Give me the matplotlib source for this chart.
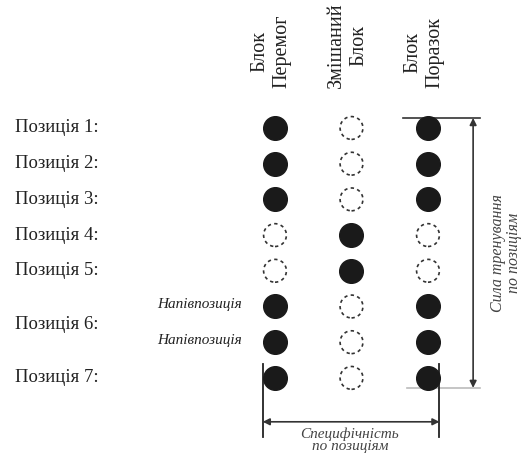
import matplotlib.pyplot as plt
import numpy as np

plt.rcParams["font.family"] = ["Liberation Serif", "DejaVu Serif"]

# columns (blocks) and rows (positions)
blocks = ["Блок\nПеремог", "Змішаний\nБлок", "Блок\nПоразок"]
row_labels = ["Позиція 1:", "Позиція 2:", "Позиція 3:", "Позиція 4:",
              "Позиція 5:", "Позиція 6:", "Позиція 7:"]
row_label_pos = [0, 1, 2, 3, 4, 5.5, 7]
half_labels = ["Напівпозиція", "Напівпозиція"]
half_pos = [5, 6]

# 1 = filled circle, 0 = dashed empty circle (8 rows incl. two half-positions)
filled = [
    [1, 1, 1, 0, 0, 1, 1, 1],
    [0, 0, 0, 1, 1, 0, 0, 0],
    [1, 1, 1, 0, 0, 1, 1, 1],
]

side_label = "Сила тренування\nпо позиціям"
bottom_label = "Специфічність\nпо позиціям"

fig = plt.figure(figsize=(5.23, 4.62), dpi=100)
ax = fig.add_axes([0, 0, 1, 1])
ax.set_xlim(-3.595, 3.242)
ax.set_ylim(9.356, -3.585)
ax.axis("off")

dark = "#1a1a1a"
for ci, col in enumerate(filled):
    col = np.array(col)
    rows = np.arange(len(col))
    ax.scatter(np.full((col == 1).sum(), ci), rows[col == 1], s=290,
               color=dark, edgecolors=dark, zorder=3)
    ax.scatter(np.full((col == 0).sum(), ci), rows[col == 0], s=270,
               facecolors="white", edgecolors="#333333", linewidths=1.2,
               linestyles=(0, (2.0, 2.0)), zorder=3)

for i, name in enumerate(blocks):
    ax.text(i - 0.05, -1.12, name, rotation=90, ha="center", va="bottom",
            fontsize=14.5, color="#222222", linespacing=1.2)

for lab, y in zip(row_labels, row_label_pos):
    ax.text(-3.4, y, lab, ha="left", va="center", fontsize=13.5,
            color="#222222")

for lab, y in zip(half_labels, half_pos):
    ax.text(-0.43, y - 0.05, lab, ha="right", va="center", fontsize=11,
            style="italic", color="#222222")

# right bracket: strength
ax.plot([1.67, 2.68], [-0.28, -0.28], color="#333333", lw=1.2)
ax.plot([1.72, 2.68], [7.28, 7.28], color="#bbbbbb", lw=1.2)
ax.annotate("", xy=(2.59, -0.28), xytext=(2.59, 7.28),
            arrowprops=dict(arrowstyle="<|-|>", color="#333333", lw=1.2,
                            mutation_scale=10, shrinkA=0, shrinkB=0))
ax.text(3.02, 3.5, side_label, rotation=90, ha="center", va="center",
        fontsize=11.5, style="italic", color="#444444", linespacing=1.0)

# bottom bracket: specificity
ax.plot([-0.16, -0.16], [6.6, 8.65], color="#222222", lw=1.3)
ax.plot([2.15, 2.15], [6.6, 8.65], color="#222222", lw=1.3)
ax.annotate("", xy=(-0.16, 8.23), xytext=(2.15, 8.23),
            arrowprops=dict(arrowstyle="<|-|>", color="#333333", lw=1.2,
                            mutation_scale=10, shrinkA=0, shrinkB=0))
ax.text(0.98, 8.38, bottom_label, ha="center", va="top", fontsize=11,
        style="italic", color="#444444", linespacing=0.95)

fig.savefig("out.png", dpi=100)
